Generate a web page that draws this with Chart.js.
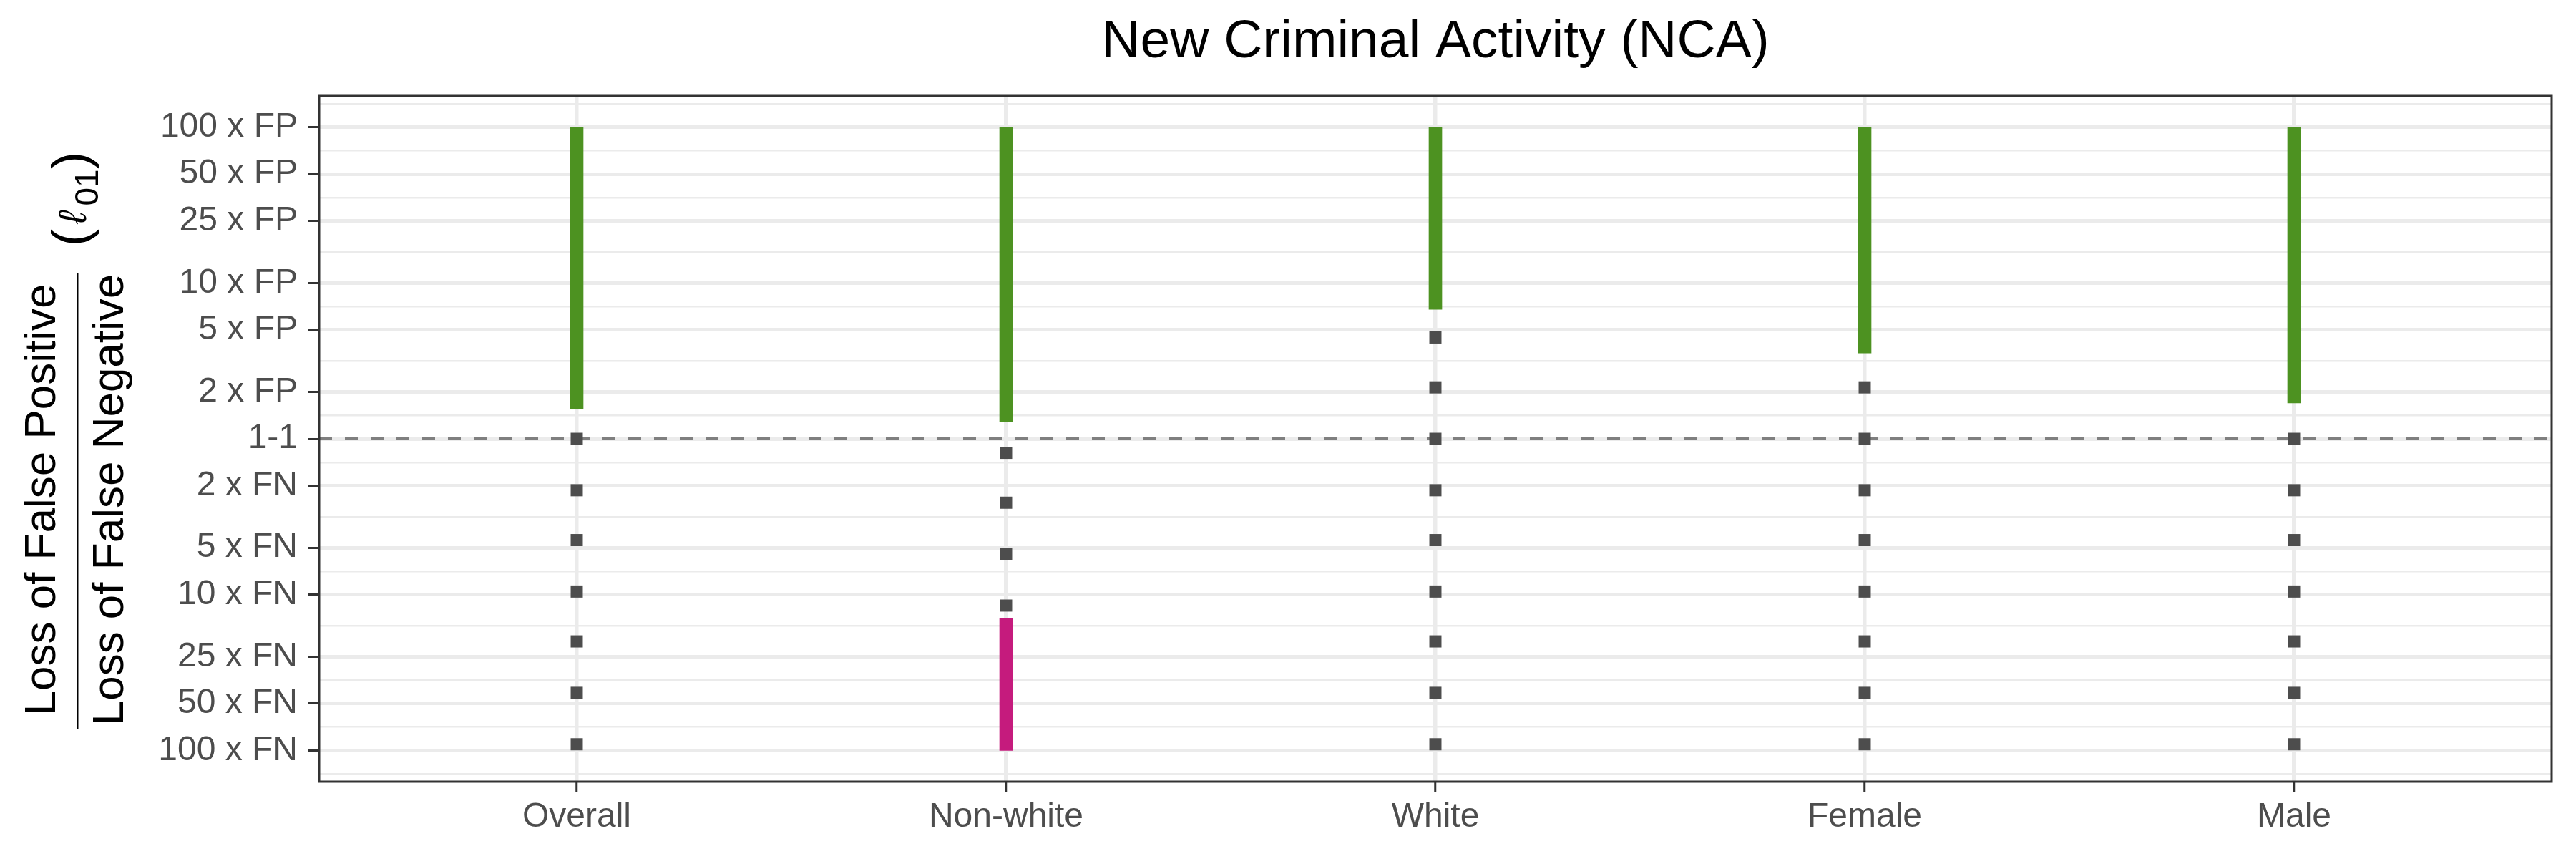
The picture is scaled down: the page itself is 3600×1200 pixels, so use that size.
<!DOCTYPE html>
<html>
<head>
<meta charset="utf-8">
<script src="https://cdn.jsdelivr.net/npm/chart.js@4.4.1/dist/chart.umd.min.js"></script>
<style>
  body { margin: 0; background: #fff; }
  canvas { display: block; }
</style>
</head>
<body>
<canvas id="nca" width="3600" height="1200"></canvas>
<script>
const categories = ['Overall', 'Non-white', 'White', 'Female', 'Male'];

// y axis is log10(loss FP / loss FN): +2 = 100 x FP, -2 = 100 x FN
const tickRatios = [100, 50, 25, 10, 5, 2, 1, -2, -5, -10, -25, -50, -100];
const tickLabels = ['100 x FP', '50 x FP', '25 x FP', '10 x FP', '5 x FP', '2 x FP', '1-1',
                    '2 x FN', '5 x FN', '10 x FN', '25 x FN', '50 x FN', '100 x FN'];

// green ranges (FP side), log10 units
const fpLow  = [0.19, 0.11, 0.83, 0.55, 0.23];
const fpHigh = [2, 2, 2, 2, 2];
// magenta range (FN side), only Non-white has one
const fnLow  = [null, -2, null, null, null];
const fnHigh = [null, -1.15, null, null, null];

// grey points, log10 units
const dotsOverall  = [0, -0.33, -0.65, -0.98, -1.3, -1.63, -1.96];
const dotsNonWhite = [-0.09, -0.41, -0.74, -1.07];
const dotsWhite    = [0.65, 0.33, 0, -0.33, -0.65, -0.98, -1.3, -1.63, -1.96];
const dotsFemale   = [0.33, 0, -0.33, -0.65, -0.98, -1.3, -1.63, -1.96];
const dotsMale     = [0, -0.33, -0.65, -0.98, -1.3, -1.63, -1.96];

const evenCost = 0; // the 1-1 line

const FONT = "'Liberation Sans', Arial, Helvetica, sans-serif";
const toLog = r => Math.sign(r) * Math.log10(Math.abs(r));

const majorVals = tickRatios.map(toLog);
const minorVals = [];
minorVals.push(majorVals[0] + (majorVals[0] - majorVals[1]) / 2);
for (let i = 0; i < majorVals.length - 1; i++) minorVals.push((majorVals[i] + majorVals[i + 1]) / 2);
const last = majorVals.length - 1;
minorVals.push(majorVals[last] - (majorVals[last - 1] - majorVals[last]) / 2);

const yTicks = majorVals.map(v => ({ value: v, minor: false }))
  .concat(minorVals.map(v => ({ value: v, minor: true })))
  .sort((a, b) => b.value - a.value);

const allDots = [dotsOverall, dotsNonWhite, dotsWhite, dotsFemale, dotsMale];
const dotData = [];
allDots.forEach((arr, i) => arr.forEach(v => dotData.push({ x: i, y: v })));

const fpData = categories.map((c, i) => ({ x: i, y: [fpLow[i], fpHigh[i]] }));
const fnData = categories.map((c, i) => fnLow[i] === null ? null : { x: i, y: [fnLow[i], fnHigh[i]] })
  .filter(d => d !== null);

const xMin = -0.6, xMax = categories.length - 1 + 0.6;

function vtext(ctx, str, x, y, font) {
  ctx.save();
  ctx.translate(x, y);
  ctx.rotate(-Math.PI / 2);
  ctx.font = font;
  ctx.textAlign = 'center';
  ctx.textBaseline = 'alphabetic';
  ctx.fillText(str, 0, 0);
  ctx.restore();
}

const yTitle = {
  id: 'yTitle',
  afterDraw(chart) {
    const ctx = chart.ctx;
    const mid = (chart.chartArea.top + chart.chartArea.bottom) / 2;
    ctx.save();
    ctx.fillStyle = '#000';
    vtext(ctx, 'Loss of False Positive', 77, mid + 85, '62px ' + FONT);
    vtext(ctx, 'Loss of False Negative', 172, mid + 85, '62px ' + FONT);
    ctx.fillRect(107, mid - 232, 2.5, 637);
    vtext(ctx, '(', 123, mid - 281, '72px ' + FONT);
    vtext(ctx, 'ℓ', 120, mid - 309, 'italic 54px ' + FONT);
    vtext(ctx, '01', 137, mid - 351, '46px ' + FONT);
    vtext(ctx, ')', 123, mid - 389, '72px ' + FONT);
    ctx.restore();
  }
};

const panelBorder = {
  id: 'panelBorder',
  afterDraw(chart) {
    const a = chart.chartArea;
    const ctx = chart.ctx;
    ctx.save();
    ctx.strokeStyle = '#333333';
    ctx.lineWidth = 3;
    ctx.strokeRect(a.left, a.top, a.right - a.left, a.bottom - a.top);
    ctx.restore();
  }
};

new Chart(document.getElementById('nca').getContext('2d'), {
  type: 'scatter',
  data: {
    datasets: [
      {
        type: 'line',
        data: [{ x: xMin, y: evenCost }, { x: xMax, y: evenCost }],
        borderColor: '#7F7F7F',
        borderWidth: 4,
        borderDash: [18, 18],
        pointRadius: 0,
        order: 10
      },
      {
        type: 'bar',
        data: fpData,
        backgroundColor: '#4D9221',
        barThickness: 18,
        grouped: false,
        borderWidth: 0,
        order: 1
      },
      {
        type: 'bar',
        data: fnData,
        backgroundColor: '#C51B7D',
        barThickness: 18,
        grouped: false,
        borderWidth: 0,
        order: 1
      },
      {
        type: 'scatter',
        data: dotData,
        pointStyle: 'rect',
        pointRadius: 12,
        pointBorderWidth: 0,
        backgroundColor: '#4D4D4D',
        order: 0
      }
    ]
  },
  options: {
    responsive: false,
    animation: false,
    devicePixelRatio: 1,
    layout: { padding: { left: 0, right: 34, top: 0, bottom: 0 } },
    plugins: {
      legend: { display: false },
      tooltip: { enabled: false },
      title: {
        display: true,
        text: 'New Criminal Activity (NCA)',
        fullSize: false,
        color: '#000',
        font: { size: 75, family: FONT, weight: 'normal' },
        padding: { top: 14, bottom: 30 }
      }
    },
    scales: {
      x: {
        type: 'linear',
        min: xMin,
        max: xMax,
        offset: false,
        afterBuildTicks: s => { s.ticks = categories.map((c, i) => ({ value: i })); },
        afterFit: s => { s.height = 108; },
        ticks: {
          callback: v => categories[v],
          color: '#4D4D4D',
          font: { size: 48, family: FONT },
          padding: 6,
          autoSkip: false,
          maxRotation: 0
        },
        grid: { offset: false, color: '#EBEBEB', lineWidth: 5.5, tickColor: '#333333', tickWidth: 3, tickLength: 15 },
        border: { display: false }
      },
      y: {
        type: 'linear',
        min: -2.2,
        max: 2.2,
        afterBuildTicks: s => { s.ticks = yTicks.map(t => ({ value: t.value, minor: t.minor })); },
        afterFit: s => { s.width = 446; },
        ticks: {
          callback: (v) => {
            const i = majorVals.findIndex(m => Math.abs(m - v) < 1e-9);
            return i < 0 ? '' : tickLabels[i];
          },
          color: '#4D4D4D',
          font: { size: 48, family: FONT },
          padding: 15,
          autoSkip: false
        },
        grid: {
          color: '#EBEBEB',
          lineWidth: c => (c.tick && c.tick.minor) ? 2.5 : 5,
          tickColor: c => (c.tick && c.tick.minor) ? 'rgba(0,0,0,0)' : '#333333',
          tickWidth: 3,
          tickLength: 15
        },
        border: { display: false }
      }
    }
  },
  plugins: [yTitle, panelBorder]
});
</script>
</body>
</html>
